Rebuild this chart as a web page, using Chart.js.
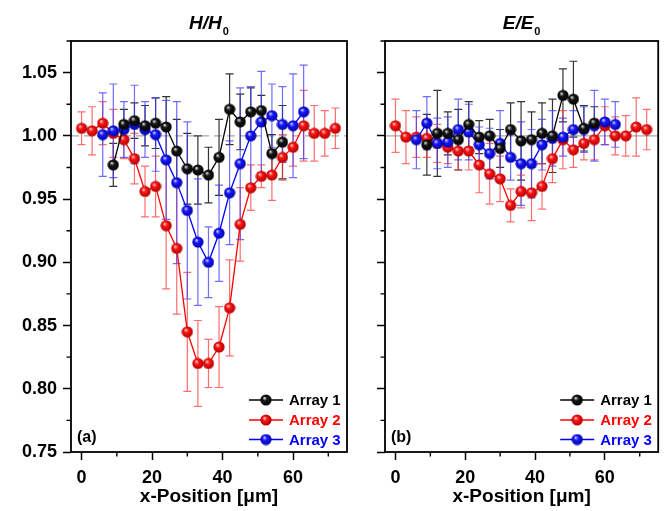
<!DOCTYPE html>
<html><head><meta charset="utf-8">
<script src="https://cdn.jsdelivr.net/npm/chart.js@4.4.1/dist/chart.umd.min.js"></script>
<style>
html,body{margin:0;padding:0;background:#fff;width:665px;height:511px;overflow:hidden}
#ca{position:absolute;left:0;top:0}
#cb{position:absolute;left:360px;top:0}
</style></head><body>
<canvas id="ca" width="360" height="511"></canvas>
<canvas id="cb" width="305" height="511"></canvas>
<script>
// ---------- data ----------
const seriesNames = ['Array 1', 'Array 2', 'Array 3'];
const xTicks = [0, 20, 40, 60];
const xMinorTicks = [10, 30, 50, 70];
const yTicks = [0.75, 0.80, 0.85, 0.90, 0.95, 1.00, 1.05];
const yMinorTicks = [0.775, 0.825, 0.875, 0.925, 0.975, 1.025, 1.075];
const refValue = 1.00;

const xArray1 = [9, 12, 15, 18, 21, 24, 27, 30, 33, 36, 39, 42, 45, 48, 51, 54, 57];
const xArray2 = [0, 3, 6, 9, 12, 15, 18, 21, 24, 27, 30, 33, 36, 39, 42, 45, 48, 51, 54, 57, 60, 63, 66, 69, 72];
const xArray3 = [6, 9, 12, 15, 18, 21, 24, 27, 30, 33, 36, 39, 42, 45, 48, 51, 54, 57, 60, 63];

// panel (a) H/H0
const hArray1 = [0.977, 1.009, 1.012, 1.008, 1.010, 1.007, 0.988, 0.974, 0.973, 0.969, 0.983, 1.021, 1.011, 1.019, 1.020, 0.986, 0.995];
const hArray1Err = [0.017, 0.012, 0.014, 0.016, 0.020, 0.024, 0.025, 0.028, 0.027, 0.022, 0.030, 0.028, 0.022, 0.019, 0.012, 0.015, 0.029];
const hArray2 = [1.006, 1.004, 1.010, 1.002, 0.997, 0.982, 0.956, 0.960, 0.929, 0.911, 0.845, 0.820, 0.820, 0.833, 0.864, 0.930, 0.959, 0.968, 0.969, 0.983, 0.991, 1.008, 1.002, 1.002, 1.006];
const hArray2Err = [0.013, 0.019, 0.017, 0.019, 0.015, 0.020, 0.020, 0.024, 0.050, 0.052, 0.047, 0.034, 0.019, 0.032, 0.038, 0.029, 0.018, 0.009, 0.020, 0.018, 0.015, 0.028, 0.022, 0.018, 0.016];
const hArray3 = [1.001, 1.004, 1.005, 1.009, 1.005, 1.001, 0.981, 0.963, 0.941, 0.916, 0.900, 0.923, 0.955, 0.978, 1.000, 1.011, 1.016, 1.009, 1.008, 1.019];
const hArray3Err = [0.033, 0.037, 0.022, 0.031, 0.022, 0.029, 0.047, 0.064, 0.070, 0.050, 0.028, 0.038, 0.041, 0.060, 0.039, 0.040, 0.025, 0.030, 0.041, 0.037];

// panel (b) E/E0
const eArray1 = [0.993, 1.002, 1.002, 0.997, 1.009, 0.999, 1.000, 0.990, 1.005, 0.996, 0.997, 1.002, 1.000, 1.032, 1.029, 1.006, 1.010];
const eArray1Err = [0.024, 0.034, 0.017, 0.024, 0.018, 0.013, 0.013, 0.015, 0.021, 0.031, 0.022, 0.024, 0.029, 0.021, 0.030, 0.018, 0.013];
const eArray2 = [1.008, 0.999, 0.999, 0.998, 0.994, 0.991, 0.988, 0.988, 0.977, 0.970, 0.966, 0.945, 0.956, 0.955, 0.960, 0.982, 0.997, 0.989, 0.994, 0.997, 1.008, 1.000, 1.000, 1.007, 1.005];
const eArray2Err = [0.021, 0.021, 0.016, 0.015, 0.015, 0.013, 0.015, 0.015, 0.022, 0.024, 0.018, 0.013, 0.013, 0.022, 0.018, 0.019, 0.023, 0.014, 0.013, 0.016, 0.015, 0.015, 0.016, 0.023, 0.016];
const eArray3 = [0.997, 1.010, 0.994, 0.995, 1.005, 1.003, 0.993, 0.986, 0.994, 0.983, 0.978, 0.978, 0.993, 0.998, 0.999, 1.005, 1.005, 1.008, 1.011, 1.009];
const eArray3Err = [0.023, 0.021, 0.020, 0.020, 0.024, 0.022, 0.014, 0.020, 0.026, 0.018, 0.033, 0.027, 0.020, 0.022, 0.015, 0.015, 0.018, 0.028, 0.018, 0.018];

// ---------- styling ----------
const FONT = '"Liberation Sans", Arial, sans-serif';
Chart.defaults.font.family = FONT;
Chart.defaults.color = '#000';

function sphere(hi, mid, dark) {
  const c = document.createElement('canvas');
  c.width = 12; c.height = 12;
  const g = c.getContext('2d');
  const grd = g.createRadialGradient(4.3, 3.9, 0.2, 6, 6, 6);
  grd.addColorStop(0, hi);
  grd.addColorStop(0.35, mid);
  grd.addColorStop(1, dark);
  g.fillStyle = grd;
  g.beginPath(); g.arc(6, 6, 5.6, 0, Math.PI * 2); g.fill();
  return c;
}
const sprites = [
  sphere('#e8e8e8', '#151515', '#000000'),
  sphere('#ffd8d8', '#ff1414', '#a80000'),
  sphere('#dcdcff', '#1818ff', '#0000a0')
];
const lineColors = ['#000000', '#ff0000', '#0000ff'];
const errColors = ['#333333', 'rgba(255,60,60,0.75)', 'rgba(60,60,255,0.75)'];
const orders = [0, 2, 1];

function makeDatasets(xs, ys, errs) {
  return xs.map((xv, i) => ({
    label: seriesNames[i],
    data: xv.map((x, j) => ({ x: x, y: ys[i][j] })),
    errors: errs[i],
    errorColor: errColors[i],
    borderColor: lineColors[i],
    backgroundColor: lineColors[i],
    borderWidth: 1.3,
    pointStyle: sprites[i],
    pointRadius: 5.5,
    tension: 0,
    order: orders[i]
  }));
}

const panelPlugin = {
  id: 'panel',
  beforeDatasetsDraw(chart, args, opts) {
    const { ctx, chartArea: a, scales: { x, y } } = chart;
    ctx.save();
    ctx.beginPath(); ctx.rect(a.left, a.top, a.width, a.height); ctx.clip();
    ctx.strokeStyle = '#a8a8a8'; ctx.lineWidth = 1.2;
    ctx.setLineDash(opts.dashed ? [8, 5] : []);
    const yy = y.getPixelForValue(refValue);
    ctx.beginPath(); ctx.moveTo(a.left, yy); ctx.lineTo(a.right, yy); ctx.stroke();
    ctx.setLineDash([]);
    chart.data.datasets.forEach((ds, i) => {
      const meta = chart.getDatasetMeta(i);
      ctx.strokeStyle = ds.errorColor; ctx.lineWidth = 1.2;
      meta.data.forEach((pt, j) => {
        const v = ds.data[j].y, e = ds.errors[j];
        const px = pt.x;
        const y1 = y.getPixelForValue(v + e), y2 = y.getPixelForValue(v - e);
        ctx.beginPath();
        ctx.moveTo(px, y1); ctx.lineTo(px, y2);
        ctx.moveTo(px - 4, y1); ctx.lineTo(px + 4, y1);
        ctx.moveTo(px - 4, y2); ctx.lineTo(px + 4, y2);
        ctx.stroke();
      });
    });
    ctx.restore();
  },
  afterDraw(chart, args, opts) {
    const { ctx, chartArea: a, scales: { x, y } } = chart;
    ctx.save();
    // frame
    ctx.strokeStyle = '#000'; ctx.lineWidth = 1.8;
    ctx.strokeRect(a.left, a.top, a.width, a.height);
    // minor ticks
    ctx.lineWidth = 1.4;
    ctx.beginPath();
    xMinorTicks.forEach(v => { const px = x.getPixelForValue(v); if (px >= a.left && px <= a.right) { ctx.moveTo(px, a.bottom); ctx.lineTo(px, a.bottom + 4.5); } });
    yMinorTicks.forEach(v => { const py = y.getPixelForValue(v); if (py >= a.top - 0.5 && py <= a.bottom) { ctx.moveTo(a.left, py); ctx.lineTo(a.left - 4.5, py); } });
    ctx.stroke();
    // panel title with subscript
    const cx = (a.left + a.right) / 2;
    ctx.fillStyle = '#000';
    ctx.textBaseline = 'alphabetic'; ctx.textAlign = 'left';
    const mainFont = 'italic bold 19px ' + FONT, subFont = 'bold 11px ' + FONT;
    ctx.font = mainFont; const w1 = ctx.measureText(opts.titleMain).width;
    ctx.font = subFont; const w2 = ctx.measureText(opts.titleSub).width;
    const sx = cx - (w1 + w2 + 1) / 2;
    ctx.font = mainFont; ctx.fillText(opts.titleMain, sx, 29);
    ctx.font = subFont; ctx.fillText(opts.titleSub, sx + w1 + 1, 35);
    // panel label
    ctx.font = 'bold 16px ' + FONT;
    ctx.fillText(opts.label, a.left + 6, 442);
    // legend
    const rows = [a.bottom - 52, a.bottom - 32, a.bottom - 12.5];
    chart.data.datasets.forEach((ds, i) => {
      const ry = rows[i];
      ctx.strokeStyle = ds.borderColor; ctx.lineWidth = 1.3;
      ctx.beginPath(); ctx.moveTo(a.right - 98, ry); ctx.lineTo(a.right - 64, ry); ctx.stroke();
      ctx.drawImage(sprites[i], a.right - 81 - 6, ry - 6);
      ctx.fillStyle = ds.borderColor;
      ctx.font = 'bold 15px ' + FONT; ctx.textBaseline = 'middle';
      ctx.fillText(ds.label, a.right - 58, ry + 1);
      ctx.textBaseline = 'alphabetic';
    });
    ctx.restore();
  }
};

function makeOptions(showYLabels, yWidth, padRight, panelOpts) {
  return {
    responsive: false,
    animation: false,
    events: [],
    layout: { padding: { left: 0, top: 41, right: padRight, bottom: 3 } },
    plugins: { legend: { display: false }, tooltip: { enabled: false }, panel: panelOpts },
    scales: {
      x: {
        type: 'linear', min: -3, max: 75.3,
        afterBuildTicks: s => { s.ticks = xTicks.map(v => ({ value: v })); },
        afterFit: s => { s.height = 56; },
        grid: { drawOnChartArea: false, drawTicks: true, tickLength: 8, tickWidth: 1.5, tickColor: '#000' },
        border: { display: false },
        ticks: { font: { size: 18, weight: 'bold' }, color: '#000', padding: 7, maxRotation: 0 },
        title: { display: true, text: 'x-Position [μm]', font: { size: 19, weight: 'bold' }, color: '#000', padding: { top: 0, bottom: 0 } }
      },
      y: {
        type: 'linear', min: 0.75, max: 1.075,
        afterBuildTicks: s => { s.ticks = yTicks.map(v => ({ value: v })); },
        afterFit: s => { s.width = yWidth; },
        grid: { drawOnChartArea: false, drawTicks: true, tickLength: 8, tickWidth: 1.5, tickColor: '#000' },
        border: { display: false },
        ticks: { display: showYLabels, font: { size: 18, weight: 'bold' }, color: '#000', padding: 6, callback: v => Number(v).toFixed(2) }
      }
    }
  };
}

new Chart(document.getElementById('ca'), {
  type: 'line',
  data: { datasets: makeDatasets([xArray1, xArray2, xArray3], [hArray1, hArray2, hArray3], [hArray1Err, hArray2Err, hArray3Err]) },
  options: makeOptions(true, 71, 13, { dashed: true, titleMain: 'H/H', titleSub: '0', label: '(a)' }),
  plugins: [panelPlugin]
});
new Chart(document.getElementById('cb'), {
  type: 'line',
  data: { datasets: makeDatasets([xArray1, xArray2, xArray3], [eArray1, eArray2, eArray3], [eArray1Err, eArray2Err, eArray3Err]) },
  options: makeOptions(false, 25, 5, { dashed: false, titleMain: 'E/E', titleSub: '0', label: '(b)' }),
  plugins: [panelPlugin]
});
</script>
</body></html>
